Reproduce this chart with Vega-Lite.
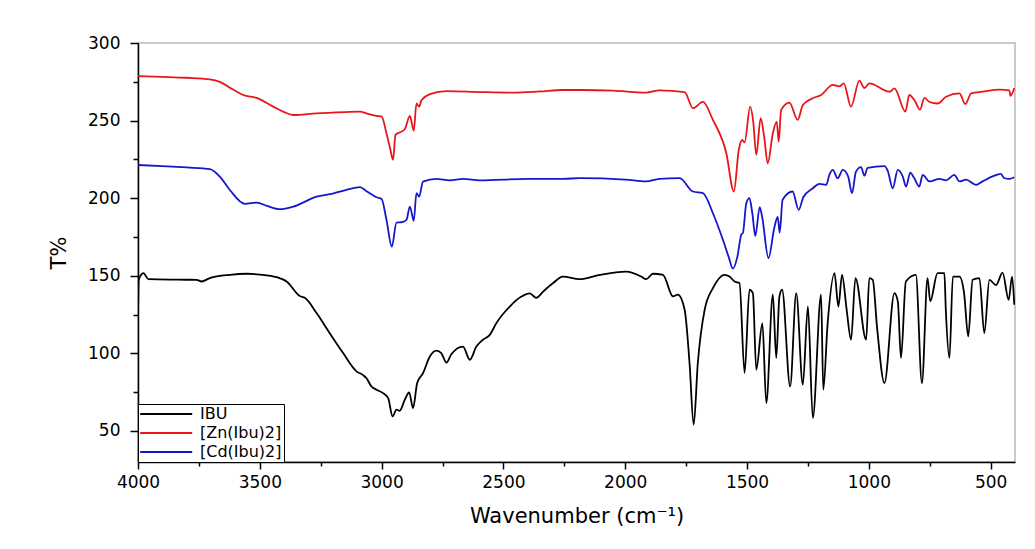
{
  "$schema": "https://vega.github.io/schema/vega-lite/v6.json",
  "width": 877,
  "height": 419,
  "autosize": {"type": "none"},
  "padding": {"left": 138, "top": 43, "right": 20, "bottom": 87},
  "background": "white",
  "config": {
    "font": "DejaVu Sans",
    "view": {"stroke": "#b8b8b8", "strokeWidth": 1.5}
  },
  "datasets": {
    "spectra": [
      {"s": "[Zn(Ibu)2]", "x": 4000, "y": 278.7}, {"s": "[Zn(Ibu)2]", "x": 3900, "y": 278.2}, {"s": "[Zn(Ibu)2]", "x": 3800, "y": 277.6}, {"s": "[Zn(Ibu)2]", "x": 3705, "y": 276.6}, {"s": "[Zn(Ibu)2]", "x": 3664, "y": 275}, {"s": "[Zn(Ibu)2]", "x": 3610, "y": 270}, {"s": "[Zn(Ibu)2]", "x": 3568, "y": 266.5}, {"s": "[Zn(Ibu)2]", "x": 3513, "y": 264.6}, {"s": "[Zn(Ibu)2]", "x": 3445, "y": 259}, {"s": "[Zn(Ibu)2]", "x": 3400, "y": 255.5}, {"s": "[Zn(Ibu)2]", "x": 3363, "y": 253.6}, {"s": "[Zn(Ibu)2]", "x": 3267, "y": 254.7}, {"s": "[Zn(Ibu)2]", "x": 3150, "y": 255.5}, {"s": "[Zn(Ibu)2]", "x": 3089, "y": 255.8}, {"s": "[Zn(Ibu)2]", "x": 3062, "y": 254.7}, {"s": "[Zn(Ibu)2]", "x": 3021, "y": 253}, {"s": "[Zn(Ibu)2]", "x": 3000, "y": 252.6}, {"s": "[Zn(Ibu)2]", "x": 2980, "y": 241.8}, {"s": "[Zn(Ibu)2]", "x": 2965, "y": 232}, {"s": "[Zn(Ibu)2]", "x": 2953, "y": 224.7}, {"s": "[Zn(Ibu)2]", "x": 2943, "y": 240.8}, {"s": "[Zn(Ibu)2]", "x": 2926, "y": 242.3}, {"s": "[Zn(Ibu)2]", "x": 2905, "y": 244.4}, {"s": "[Zn(Ibu)2]", "x": 2884, "y": 253}, {"s": "[Zn(Ibu)2]", "x": 2868, "y": 243.5}, {"s": "[Zn(Ibu)2]", "x": 2857, "y": 261}, {"s": "[Zn(Ibu)2]", "x": 2846, "y": 259}, {"s": "[Zn(Ibu)2]", "x": 2836, "y": 263.3}, {"s": "[Zn(Ibu)2]", "x": 2802, "y": 267}, {"s": "[Zn(Ibu)2]", "x": 2734, "y": 269}, {"s": "[Zn(Ibu)2]", "x": 2597, "y": 268.4}, {"s": "[Zn(Ibu)2]", "x": 2461, "y": 268}, {"s": "[Zn(Ibu)2]", "x": 2350, "y": 268.8}, {"s": "[Zn(Ibu)2]", "x": 2256, "y": 269.7}, {"s": "[Zn(Ibu)2]", "x": 2187, "y": 269.7}, {"s": "[Zn(Ibu)2]", "x": 2050, "y": 269.3}, {"s": "[Zn(Ibu)2]", "x": 1914, "y": 268}, {"s": "[Zn(Ibu)2]", "x": 1859, "y": 269.5}, {"s": "[Zn(Ibu)2]", "x": 1756, "y": 268.3}, {"s": "[Zn(Ibu)2]", "x": 1722, "y": 258}, {"s": "[Zn(Ibu)2]", "x": 1681, "y": 262}, {"s": "[Zn(Ibu)2]", "x": 1640, "y": 250.4}, {"s": "[Zn(Ibu)2]", "x": 1585, "y": 229}, {"s": "[Zn(Ibu)2]", "x": 1554, "y": 204.3}, {"s": "[Zn(Ibu)2]", "x": 1534, "y": 231}, {"s": "[Zn(Ibu)2]", "x": 1520, "y": 237.5}, {"s": "[Zn(Ibu)2]", "x": 1510, "y": 236}, {"s": "[Zn(Ibu)2]", "x": 1487, "y": 259}, {"s": "[Zn(Ibu)2]", "x": 1475, "y": 250}, {"s": "[Zn(Ibu)2]", "x": 1462, "y": 228}, {"s": "[Zn(Ibu)2]", "x": 1444, "y": 251.5}, {"s": "[Zn(Ibu)2]", "x": 1430, "y": 240}, {"s": "[Zn(Ibu)2]", "x": 1415, "y": 222.5}, {"s": "[Zn(Ibu)2]", "x": 1394, "y": 241.8}, {"s": "[Zn(Ibu)2]", "x": 1378, "y": 249.3}, {"s": "[Zn(Ibu)2]", "x": 1370, "y": 236.4}, {"s": "[Zn(Ibu)2]", "x": 1360, "y": 256.9}, {"s": "[Zn(Ibu)2]", "x": 1326, "y": 261.6}, {"s": "[Zn(Ibu)2]", "x": 1292, "y": 250.4}, {"s": "[Zn(Ibu)2]", "x": 1271, "y": 260}, {"s": "[Zn(Ibu)2]", "x": 1230, "y": 264.4}, {"s": "[Zn(Ibu)2]", "x": 1196, "y": 266.5}, {"s": "[Zn(Ibu)2]", "x": 1148, "y": 273}, {"s": "[Zn(Ibu)2]", "x": 1121, "y": 272}, {"s": "[Zn(Ibu)2]", "x": 1103, "y": 274}, {"s": "[Zn(Ibu)2]", "x": 1073, "y": 259}, {"s": "[Zn(Ibu)2]", "x": 1039, "y": 275.7}, {"s": "[Zn(Ibu)2]", "x": 1018, "y": 271}, {"s": "[Zn(Ibu)2]", "x": 998, "y": 274}, {"s": "[Zn(Ibu)2]", "x": 915, "y": 268.6}, {"s": "[Zn(Ibu)2]", "x": 895, "y": 270.7}, {"s": "[Zn(Ibu)2]", "x": 850, "y": 255.8}, {"s": "[Zn(Ibu)2]", "x": 834, "y": 266.5}, {"s": "[Zn(Ibu)2]", "x": 812, "y": 263}, {"s": "[Zn(Ibu)2]", "x": 790, "y": 257}, {"s": "[Zn(Ibu)2]", "x": 772, "y": 264.6}, {"s": "[Zn(Ibu)2]", "x": 751, "y": 262}, {"s": "[Zn(Ibu)2]", "x": 717, "y": 261}, {"s": "[Zn(Ibu)2]", "x": 683, "y": 265.4}, {"s": "[Zn(Ibu)2]", "x": 628, "y": 267.5}, {"s": "[Zn(Ibu)2]", "x": 604, "y": 260.7}, {"s": "[Zn(Ibu)2]", "x": 580, "y": 267.5}, {"s": "[Zn(Ibu)2]", "x": 533, "y": 268.6}, {"s": "[Zn(Ibu)2]", "x": 464, "y": 270}, {"s": "[Zn(Ibu)2]", "x": 423, "y": 269.5}, {"s": "[Zn(Ibu)2]", "x": 419, "y": 266}, {"s": "[Zn(Ibu)2]", "x": 403, "y": 271},

      {"s": "[Cd(Ibu)2]", "x": 4000, "y": 221.4}, {"s": "[Cd(Ibu)2]", "x": 3900, "y": 220.7}, {"s": "[Cd(Ibu)2]", "x": 3800, "y": 219.8}, {"s": "[Cd(Ibu)2]", "x": 3705, "y": 218.7}, {"s": "[Cd(Ibu)2]", "x": 3664, "y": 213.9}, {"s": "[Cd(Ibu)2]", "x": 3623, "y": 205.3}, {"s": "[Cd(Ibu)2]", "x": 3561, "y": 196.3}, {"s": "[Cd(Ibu)2]", "x": 3513, "y": 197.2}, {"s": "[Cd(Ibu)2]", "x": 3470, "y": 195}, {"s": "[Cd(Ibu)2]", "x": 3417, "y": 192.9}, {"s": "[Cd(Ibu)2]", "x": 3363, "y": 194.5}, {"s": "[Cd(Ibu)2]", "x": 3267, "y": 201}, {"s": "[Cd(Ibu)2]", "x": 3200, "y": 203}, {"s": "[Cd(Ibu)2]", "x": 3144, "y": 205.3}, {"s": "[Cd(Ibu)2]", "x": 3089, "y": 207.1}, {"s": "[Cd(Ibu)2]", "x": 3062, "y": 204.5}, {"s": "[Cd(Ibu)2]", "x": 3021, "y": 200.6}, {"s": "[Cd(Ibu)2]", "x": 3000, "y": 199.5}, {"s": "[Cd(Ibu)2]", "x": 2980, "y": 186}, {"s": "[Cd(Ibu)2]", "x": 2958, "y": 168.8}, {"s": "[Cd(Ibu)2]", "x": 2939, "y": 184.3}, {"s": "[Cd(Ibu)2]", "x": 2918, "y": 184.5}, {"s": "[Cd(Ibu)2]", "x": 2898, "y": 186}, {"s": "[Cd(Ibu)2]", "x": 2884, "y": 194.6}, {"s": "[Cd(Ibu)2]", "x": 2868, "y": 185.4}, {"s": "[Cd(Ibu)2]", "x": 2857, "y": 203.2}, {"s": "[Cd(Ibu)2]", "x": 2846, "y": 201}, {"s": "[Cd(Ibu)2]", "x": 2830, "y": 210.7}, {"s": "[Cd(Ibu)2]", "x": 2775, "y": 212.5}, {"s": "[Cd(Ibu)2]", "x": 2720, "y": 211.5}, {"s": "[Cd(Ibu)2]", "x": 2666, "y": 212.5}, {"s": "[Cd(Ibu)2]", "x": 2597, "y": 211.5}, {"s": "[Cd(Ibu)2]", "x": 2400, "y": 212.5}, {"s": "[Cd(Ibu)2]", "x": 2256, "y": 212.5}, {"s": "[Cd(Ibu)2]", "x": 2187, "y": 212.9}, {"s": "[Cd(Ibu)2]", "x": 2000, "y": 212}, {"s": "[Cd(Ibu)2]", "x": 1914, "y": 210.8}, {"s": "[Cd(Ibu)2]", "x": 1860, "y": 212.5}, {"s": "[Cd(Ibu)2]", "x": 1777, "y": 212.9}, {"s": "[Cd(Ibu)2]", "x": 1722, "y": 204.3}, {"s": "[Cd(Ibu)2]", "x": 1681, "y": 203.3}, {"s": "[Cd(Ibu)2]", "x": 1640, "y": 190.3}, {"s": "[Cd(Ibu)2]", "x": 1599, "y": 173.2}, {"s": "[Cd(Ibu)2]", "x": 1575, "y": 162}, {"s": "[Cd(Ibu)2]", "x": 1558, "y": 154.6}, {"s": "[Cd(Ibu)2]", "x": 1540, "y": 162}, {"s": "[Cd(Ibu)2]", "x": 1523, "y": 176.7}, {"s": "[Cd(Ibu)2]", "x": 1517, "y": 177.5}, {"s": "[Cd(Ibu)2]", "x": 1503, "y": 196.8}, {"s": "[Cd(Ibu)2]", "x": 1490, "y": 200}, {"s": "[Cd(Ibu)2]", "x": 1478, "y": 190}, {"s": "[Cd(Ibu)2]", "x": 1466, "y": 175.6}, {"s": "[Cd(Ibu)2]", "x": 1448, "y": 194.3}, {"s": "[Cd(Ibu)2]", "x": 1438, "y": 188}, {"s": "[Cd(Ibu)2]", "x": 1412, "y": 161.4}, {"s": "[Cd(Ibu)2]", "x": 1388, "y": 181}, {"s": "[Cd(Ibu)2]", "x": 1374, "y": 188}, {"s": "[Cd(Ibu)2]", "x": 1366, "y": 177.8}, {"s": "[Cd(Ibu)2]", "x": 1354, "y": 199}, {"s": "[Cd(Ibu)2]", "x": 1313, "y": 204.3}, {"s": "[Cd(Ibu)2]", "x": 1288, "y": 192.5}, {"s": "[Cd(Ibu)2]", "x": 1269, "y": 200.6}, {"s": "[Cd(Ibu)2]", "x": 1230, "y": 206.4}, {"s": "[Cd(Ibu)2]", "x": 1203, "y": 209.2}, {"s": "[Cd(Ibu)2]", "x": 1175, "y": 208.6}, {"s": "[Cd(Ibu)2]", "x": 1162, "y": 215}, {"s": "[Cd(Ibu)2]", "x": 1148, "y": 218.2}, {"s": "[Cd(Ibu)2]", "x": 1128, "y": 212.9}, {"s": "[Cd(Ibu)2]", "x": 1107, "y": 218.2}, {"s": "[Cd(Ibu)2]", "x": 1085, "y": 214}, {"s": "[Cd(Ibu)2]", "x": 1069, "y": 203.2}, {"s": "[Cd(Ibu)2]", "x": 1053, "y": 217}, {"s": "[Cd(Ibu)2]", "x": 1032, "y": 220}, {"s": "[Cd(Ibu)2]", "x": 1018, "y": 214.5}, {"s": "[Cd(Ibu)2]", "x": 1005, "y": 219.6}, {"s": "[Cd(Ibu)2]", "x": 936, "y": 220.6}, {"s": "[Cd(Ibu)2]", "x": 922, "y": 217.4}, {"s": "[Cd(Ibu)2]", "x": 902, "y": 206.4}, {"s": "[Cd(Ibu)2]", "x": 881, "y": 218.2}, {"s": "[Cd(Ibu)2]", "x": 861, "y": 214}, {"s": "[Cd(Ibu)2]", "x": 847, "y": 207.5}, {"s": "[Cd(Ibu)2]", "x": 830, "y": 216.5}, {"s": "[Cd(Ibu)2]", "x": 814, "y": 213}, {"s": "[Cd(Ibu)2]", "x": 793, "y": 207.5}, {"s": "[Cd(Ibu)2]", "x": 779, "y": 215}, {"s": "[Cd(Ibu)2]", "x": 751, "y": 210.8}, {"s": "[Cd(Ibu)2]", "x": 710, "y": 212.4}, {"s": "[Cd(Ibu)2]", "x": 683, "y": 211.5}, {"s": "[Cd(Ibu)2]", "x": 649, "y": 215}, {"s": "[Cd(Ibu)2]", "x": 628, "y": 210.8}, {"s": "[Cd(Ibu)2]", "x": 601, "y": 211.9}, {"s": "[Cd(Ibu)2]", "x": 560, "y": 208.6}, {"s": "[Cd(Ibu)2]", "x": 533, "y": 210.8}, {"s": "[Cd(Ibu)2]", "x": 492, "y": 214}, {"s": "[Cd(Ibu)2]", "x": 458, "y": 215.7}, {"s": "[Cd(Ibu)2]", "x": 445, "y": 213}, {"s": "[Cd(Ibu)2]", "x": 423, "y": 212.4}, {"s": "[Cd(Ibu)2]", "x": 403, "y": 213.5},

      {"s": "IBU", "x": 4000, "y": 123}, {"s": "IBU", "x": 3997, "y": 147.4}, {"s": "IBU", "x": 3990, "y": 150}, {"s": "IBU", "x": 3978, "y": 151.7}, {"s": "IBU", "x": 3957, "y": 147.8}, {"s": "IBU", "x": 3850, "y": 147.5}, {"s": "IBU", "x": 3759, "y": 147.4}, {"s": "IBU", "x": 3739, "y": 146.3}, {"s": "IBU", "x": 3705, "y": 148.5}, {"s": "IBU", "x": 3623, "y": 150.6}, {"s": "IBU", "x": 3554, "y": 151.3}, {"s": "IBU", "x": 3500, "y": 150.8}, {"s": "IBU", "x": 3431, "y": 149.1}, {"s": "IBU", "x": 3390, "y": 146.3}, {"s": "IBU", "x": 3336, "y": 137}, {"s": "IBU", "x": 3315, "y": 135.8}, {"s": "IBU", "x": 3267, "y": 126}, {"s": "IBU", "x": 3213, "y": 113}, {"s": "IBU", "x": 3158, "y": 100.2}, {"s": "IBU", "x": 3103, "y": 88.4}, {"s": "IBU", "x": 3076, "y": 86}, {"s": "IBU", "x": 3062, "y": 84}, {"s": "IBU", "x": 3042, "y": 78.7}, {"s": "IBU", "x": 3021, "y": 76.6}, {"s": "IBU", "x": 2994, "y": 74.4}, {"s": "IBU", "x": 2973, "y": 71.2}, {"s": "IBU", "x": 2955, "y": 59.4}, {"s": "IBU", "x": 2939, "y": 63.7}, {"s": "IBU", "x": 2926, "y": 63}, {"s": "IBU", "x": 2905, "y": 70}, {"s": "IBU", "x": 2887, "y": 74.8}, {"s": "IBU", "x": 2871, "y": 64.8}, {"s": "IBU", "x": 2854, "y": 80.9}, {"s": "IBU", "x": 2830, "y": 87.3}, {"s": "IBU", "x": 2802, "y": 98}, {"s": "IBU", "x": 2775, "y": 101.8}, {"s": "IBU", "x": 2755, "y": 100.2}, {"s": "IBU", "x": 2734, "y": 94.1}, {"s": "IBU", "x": 2714, "y": 99.4}, {"s": "IBU", "x": 2666, "y": 104.4}, {"s": "IBU", "x": 2638, "y": 95.9}, {"s": "IBU", "x": 2611, "y": 104.4}, {"s": "IBU", "x": 2584, "y": 108.8}, {"s": "IBU", "x": 2556, "y": 111.9}, {"s": "IBU", "x": 2529, "y": 119.5}, {"s": "IBU", "x": 2474, "y": 130.2}, {"s": "IBU", "x": 2426, "y": 136.6}, {"s": "IBU", "x": 2392, "y": 138.7}, {"s": "IBU", "x": 2365, "y": 135.8}, {"s": "IBU", "x": 2337, "y": 139.8}, {"s": "IBU", "x": 2296, "y": 145.3}, {"s": "IBU", "x": 2256, "y": 149.5}, {"s": "IBU", "x": 2187, "y": 147.8}, {"s": "IBU", "x": 2105, "y": 150.6}, {"s": "IBU", "x": 1996, "y": 152.7}, {"s": "IBU", "x": 1934, "y": 149.5}, {"s": "IBU", "x": 1914, "y": 147.8}, {"s": "IBU", "x": 1886, "y": 151.3}, {"s": "IBU", "x": 1845, "y": 150.6}, {"s": "IBU", "x": 1804, "y": 136.7}, {"s": "IBU", "x": 1784, "y": 137.8}, {"s": "IBU", "x": 1756, "y": 128}, {"s": "IBU", "x": 1736, "y": 93.8}, {"s": "IBU", "x": 1719, "y": 54}, {"s": "IBU", "x": 1702, "y": 93.8}, {"s": "IBU", "x": 1674, "y": 128}, {"s": "IBU", "x": 1640, "y": 142}, {"s": "IBU", "x": 1592, "y": 150.6}, {"s": "IBU", "x": 1572, "y": 149.5}, {"s": "IBU", "x": 1551, "y": 146.3}, {"s": "IBU", "x": 1531, "y": 145.3}, {"s": "IBU", "x": 1510, "y": 87.3}, {"s": "IBU", "x": 1490, "y": 141}, {"s": "IBU", "x": 1476, "y": 138.8}, {"s": "IBU", "x": 1462, "y": 89.4}, {"s": "IBU", "x": 1437, "y": 119.5}, {"s": "IBU", "x": 1421, "y": 68}, {"s": "IBU", "x": 1394, "y": 137.8}, {"s": "IBU", "x": 1380, "y": 97}, {"s": "IBU", "x": 1367, "y": 136.7}, {"s": "IBU", "x": 1356, "y": 141}, {"s": "IBU", "x": 1323, "y": 78.7}, {"s": "IBU", "x": 1298, "y": 138.8}, {"s": "IBU", "x": 1271, "y": 79.8}, {"s": "IBU", "x": 1250, "y": 130.2}, {"s": "IBU", "x": 1230, "y": 58.3}, {"s": "IBU", "x": 1196, "y": 137.8}, {"s": "IBU", "x": 1187, "y": 76.6}, {"s": "IBU", "x": 1169, "y": 119.5}, {"s": "IBU", "x": 1141, "y": 151.7}, {"s": "IBU", "x": 1125, "y": 130.2}, {"s": "IBU", "x": 1110, "y": 150.6}, {"s": "IBU", "x": 1091, "y": 128}, {"s": "IBU", "x": 1073, "y": 108.8}, {"s": "IBU", "x": 1055, "y": 148.5}, {"s": "IBU", "x": 1011, "y": 108.8}, {"s": "IBU", "x": 998, "y": 148.5}, {"s": "IBU", "x": 984, "y": 147.4}, {"s": "IBU", "x": 966, "y": 116.3}, {"s": "IBU", "x": 936, "y": 80.9}, {"s": "IBU", "x": 895, "y": 138.8}, {"s": "IBU", "x": 881, "y": 133.5}, {"s": "IBU", "x": 868, "y": 97}, {"s": "IBU", "x": 848, "y": 146.3}, {"s": "IBU", "x": 807, "y": 150.6}, {"s": "IBU", "x": 782, "y": 80.9}, {"s": "IBU", "x": 759, "y": 148.5}, {"s": "IBU", "x": 748, "y": 133.5}, {"s": "IBU", "x": 718, "y": 151.7}, {"s": "IBU", "x": 690, "y": 151.7}, {"s": "IBU", "x": 684, "y": 128}, {"s": "IBU", "x": 669, "y": 97}, {"s": "IBU", "x": 655, "y": 149.5}, {"s": "IBU", "x": 628, "y": 149.5}, {"s": "IBU", "x": 609, "y": 138.8}, {"s": "IBU", "x": 592, "y": 110.9}, {"s": "IBU", "x": 574, "y": 147.4}, {"s": "IBU", "x": 546, "y": 148.5}, {"s": "IBU", "x": 526, "y": 113}, {"s": "IBU", "x": 505, "y": 147.4}, {"s": "IBU", "x": 478, "y": 144}, {"s": "IBU", "x": 451, "y": 152}, {"s": "IBU", "x": 426, "y": 134.5}, {"s": "IBU", "x": 412, "y": 149.5}, {"s": "IBU", "x": 403, "y": 131.3}
    ]
  },
  "data": {"name": "spectra"},
  "mark": {"type": "line", "strokeWidth": 1.8, "clip": true, "interpolate": "monotone"},
  "encoding": {
    "x": {
      "field": "x",
      "type": "quantitative",
      "scale": {"domain": [400, 4000], "reverse": true, "nice": false, "zero": false},
      "axis": {
        "title": "Wavenumber (cm⁻¹)",
        "values": [4000, 3750, 3500, 3250, 3000, 2750, 2500, 2250, 2000, 1750, 1500, 1250, 1000, 750, 500],
        "labelExpr": "datum.value % 500 === 0 ? format(datum.value, 'd') : ''",
        "grid": false,
        "domainColor": "black",
        "domainWidth": 1.5,
        "tickColor": "black",
        "tickWidth": 1.5,
        "tickSize": {"condition": {"test": "datum.value % 500 === 0", "value": 7}, "value": 4},
        "labelFontSize": 17,
        "labelColor": "black",
        "labelPadding": 5,
        "labelFlush": false,
        "labelOverlap": false,
        "titleFontSize": 21,
        "titleFontWeight": "normal",
        "titleColor": "black",
        "titlePadding": 15
      }
    },
    "y": {
      "field": "y",
      "type": "quantitative",
      "scale": {"domain": [30, 300], "nice": false, "zero": false},
      "axis": {
        "title": "T%",
        "values": [50, 75, 100, 125, 150, 175, 200, 225, 250, 275, 300],
        "labelExpr": "datum.value % 50 === 0 ? format(datum.value, 'd') : ''",
        "grid": false,
        "domainColor": "black",
        "domainWidth": 1.5,
        "tickColor": "black",
        "tickWidth": 1.5,
        "tickSize": {"condition": {"test": "datum.value % 50 === 0", "value": 8}, "value": 5},
        "labelFontSize": 17,
        "labelColor": "black",
        "labelPadding": 10,
        "labelFlush": false,
        "labelOverlap": false,
        "titleFontSize": 21,
        "titleFontWeight": "normal",
        "titleColor": "black",
        "titlePadding": 18
      }
    },
    "color": {
      "field": "s",
      "type": "nominal",
      "scale": {"domain": ["IBU", "[Zn(Ibu)2]", "[Cd(Ibu)2]"], "range": ["#000000", "#e8161b", "#1616cc"]},
      "legend": {
        "title": null,
        "orient": "none",
        "legendX": 0,
        "legendY": 361,
        "direction": "vertical",
        "padding": 2,
        "strokeColor": "black",
        "fillColor": "white",
        "symbolType": "M-1.2,0H6.8",
        "symbolSize": 169,
        "symbolStrokeWidth": 1.8,
        "symbolFillColor": "transparent",
        "labelOffset": 44,
        "labelFontSize": 16,
        "labelColor": "black",
        "rowPadding": 3
      }
    }
  }
}
